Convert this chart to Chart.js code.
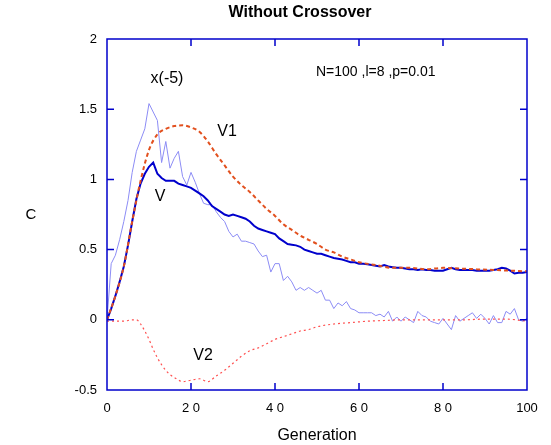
<!DOCTYPE html>
<html>
<head>
<meta charset="UTF-8">
<script src="https://cdn.jsdelivr.net/npm/chart.js@4/dist/chart.umd.min.js"></script>
<style>
  body { margin: 0; background: #fff; }
  #wrap { width: 551px; height: 445px; }
</style>
</head>
<body>
<div id="wrap"><canvas id="myChart"></canvas></div>
<script>
// generations 0..100 for the noisy x(-5) line and V
var gens = Array.from({length: 101}, function(_, i){ return i; });

var x5 = [0, 0.40, 0.46, 0.57, 0.70, 0.85, 1.05, 1.20, 1.28, 1.36,
  1.54, 1.48, 1.42, 1.12, 1.27, 1.08, 1.15, 1.20, 1.02, 0.96,
  1.05, 0.98, 0.90, 0.83, 0.82, 0.82, 0.77, 0.73, 0.70, 0.63,
  0.59, 0.61, 0.56, 0.56, 0.55, 0.54, 0.49, 0.45, 0.46, 0.34,
  0.40, 0.40, 0.28, 0.31, 0.27, 0.21, 0.23, 0.21, 0.23, 0.21,
  0.19, 0.21, 0.14, 0.14, 0.08, 0.12, 0.10, 0.13, 0.08, 0.07,
  0.05, 0.05, 0.05, 0.05, 0.03, 0.04, 0.02, 0.06, -0.01, 0.02,
  -0.01, 0.02, 0.00, -0.02, 0.06, 0.03, 0.02, -0.01, -0.02, -0.03,
  0.01, -0.03, -0.07, 0.03, -0.01, 0.01, 0.03, 0.05, 0.01, 0.04,
  0.01, -0.03, 0.03, -0.02, -0.02, 0.06, 0.04, 0.08, 0.00, -0.01,
  0.01];

var vVals = [0, 0.08, 0.17, 0.27, 0.38, 0.53, 0.70, 0.86, 0.97, 1.04,
  1.09, 1.12, 1.04, 1.01, 0.99, 0.99, 0.99, 0.97, 0.96, 0.95,
  0.94, 0.92, 0.90, 0.88, 0.85, 0.81, 0.79, 0.77, 0.75, 0.74,
  0.75, 0.74, 0.73, 0.72, 0.70, 0.67, 0.65, 0.64, 0.63, 0.62,
  0.61, 0.58, 0.56, 0.54, 0.535, 0.53, 0.52, 0.50, 0.49, 0.48,
  0.47, 0.47, 0.46, 0.45, 0.44, 0.435, 0.43, 0.42, 0.41, 0.41,
  0.40, 0.40, 0.395, 0.39, 0.385, 0.38, 0.39, 0.38, 0.375, 0.37,
  0.37, 0.365, 0.36, 0.36, 0.355, 0.36, 0.355, 0.355, 0.35, 0.35,
  0.35, 0.36, 0.37, 0.36, 0.355, 0.355, 0.355, 0.355, 0.35, 0.35,
  0.35, 0.35, 0.355, 0.36, 0.37, 0.365, 0.35, 0.33, 0.335, 0.335,
  0.34];

// V1 read at fewer generations (smooth curve)
var v1Gens = [0, 2, 4, 6, 8, 10, 12, 14, 16, 18, 20, 22, 24, 26, 28, 30, 32, 34, 36, 38,
  40, 42, 44, 46, 48, 50, 52, 54, 56, 58, 60, 64, 68, 72, 76, 80, 84, 88, 92, 96, 100];
var v1Vals = [0, 0.17, 0.38, 0.70, 0.99, 1.21, 1.32, 1.36, 1.38, 1.385, 1.37, 1.34, 1.27, 1.18, 1.10, 1.02, 0.96, 0.91, 0.85, 0.79,
  0.74, 0.68, 0.64, 0.60, 0.57, 0.54, 0.50, 0.48, 0.45, 0.43, 0.41, 0.39, 0.37, 0.37, 0.36, 0.37, 0.365, 0.36, 0.355, 0.35, 0.345];

var v2Gens = [0, 2, 4, 6, 7, 8, 9, 10, 11, 12, 13, 14, 15, 16, 18, 20, 22, 24, 26, 28, 30, 32, 34, 36, 38,
  40, 42, 44, 46, 48, 50, 54, 58, 62, 66, 70, 75, 80, 85, 90, 95, 100];
var v2Vals = [-0.01, -0.01, -0.01, 0.0, 0.0, -0.03, -0.08, -0.14, -0.21, -0.27, -0.32, -0.36, -0.39, -0.41, -0.44, -0.43, -0.42, -0.44, -0.40, -0.36, -0.31, -0.26, -0.22, -0.20, -0.17,
  -0.14, -0.12, -0.10, -0.08, -0.07, -0.05, -0.03, -0.02, -0.01, -0.005, 0, 0, 0, 0, 0.005, 0.005, -0.01];

var xTicks = [0, 20, 40, 60, 80, 100];
var xTickText = ['0', '2 0', '4 0', '6 0', '8 0', '100'];
var yTicks = [-0.5, 0, 0.5, 1, 1.5, 2];

function pts(xs, ys){
  return xs.map(function(x, i){ return {x: x, y: ys[i]}; });
}

var FONT = '"Liberation Sans", Arial, Helvetica, sans-serif';
var FRAME = '#0000cc';

// frame with inward ticks + text labels
var decor = {
  id: 'decor',
  afterDraw: function(chart){
    var c = chart.ctx, a = chart.chartArea;
    var xs = chart.scales.x, ys = chart.scales.y;
    c.save();
    c.strokeStyle = FRAME;
    c.lineWidth = 1.5;
    c.strokeRect(a.left, a.top, a.right - a.left, a.bottom - a.top);
    c.beginPath();
    xTicks.forEach(function(t){
      if (t === 0 || t === 100) return;
      var px = xs.getPixelForValue(t);
      c.moveTo(px, a.bottom); c.lineTo(px, a.bottom - 7);
      c.moveTo(px, a.top); c.lineTo(px, a.top + 7);
    });
    yTicks.forEach(function(t){
      if (t === -0.5 || t === 2) return;
      var py = ys.getPixelForValue(t);
      c.moveTo(a.left, py); c.lineTo(a.left + 7, py);
      c.moveTo(a.right, py); c.lineTo(a.right - 7, py);
    });
    c.stroke();

    c.fillStyle = '#000';
    c.textAlign = 'center';
    c.textBaseline = 'middle';
    c.font = 'bold 16px ' + FONT;
    c.fillText('Without Crossover', 300, 13);
    c.font = '16px ' + FONT;
    c.fillText('Generation', (a.left + a.right) / 2, 436);
    c.font = '15px ' + FONT;
    c.fillText('C', 31, 215);

    c.font = '16px ' + FONT;
    c.fillText('x(-5)', 167, 79);
    c.fillText('V1', 227, 132);
    c.fillText('V', 160, 197);
    c.fillText('V2', 203, 356);
    c.font = '14px ' + FONT;
    c.textAlign = 'left';
    c.fillText('N=100 ,l=8 ,p=0.01', 316, 72);
    c.restore();
  }
};

var ctx = document.getElementById('myChart').getContext('2d');
var myChart = new Chart(ctx, {
  type: 'line',
  data: {
    datasets: [
      {label: 'V1', data: pts(v1Gens, v1Vals), borderColor: '#e2501e', borderWidth: 2,
        borderDash: [4, 3], tension: 0.4, cubicInterpolationMode: 'monotone', order: 0},
      {label: 'V2', data: pts(v2Gens, v2Vals), borderColor: '#ff5050', borderWidth: 1.2,
        borderDash: [2, 3], tension: 0.4, cubicInterpolationMode: 'monotone', order: 1},
      {label: 'V', data: pts(gens, vVals), borderColor: '#0000cc', borderWidth: 2, order: 2},
      {label: 'x(-5)', data: pts(gens, x5), borderColor: '#8c8cf5', borderWidth: 1, order: 3}
    ]
  },
  options: {
    responsive: true,
    maintainAspectRatio: false,
    animation: false,
    elements: { point: { radius: 0 }, line: { fill: false } },
    layout: { padding: { top: 39, right: 24, bottom: 0, left: 0 } },
    plugins: { legend: { display: false }, tooltip: { enabled: false } },
    scales: {
      x: {
        type: 'linear', min: 0, max: 100,
        grid: { display: false, drawTicks: false, tickLength: 0 }, border: { display: false },
        afterBuildTicks: function(s){ s.ticks = xTicks.map(function(v){ return {value: v}; }); },
        afterFit: function(s){ s.height = 55; },
        ticks: {
          padding: 11, color: '#000', maxRotation: 0,
          font: { family: FONT, size: 13 },
          callback: function(v){ var i = xTicks.indexOf(v); return i >= 0 ? xTickText[i] : ''; }
        }
      },
      y: {
        min: -0.5, max: 2,
        grid: { display: false, drawTicks: false, tickLength: 0 }, border: { display: false },
        afterBuildTicks: function(s){ s.ticks = yTicks.map(function(v){ return {value: v}; }); },
        afterFit: function(s){ s.width = 107; },
        ticks: {
          padding: 10, color: '#000',
          font: { family: FONT, size: 13 },
          callback: function(v){ return String(v); }
        }
      }
    }
  },
  plugins: [decor]
});
</script>
</body>
</html>
